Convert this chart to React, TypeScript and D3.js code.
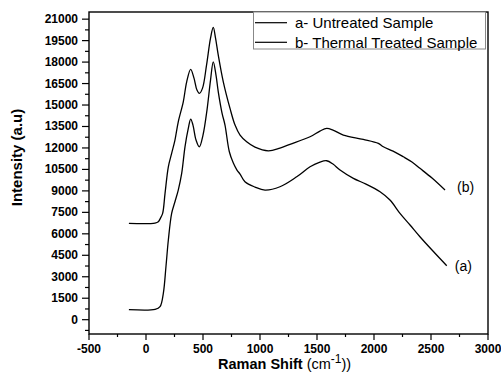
import React from "react";
import * as d3 from "d3";

const untreatedX = [-150, 80, 123, 152, 175, 196, 225, 254, 283, 313, 342, 371, 392, 412, 439, 468, 500, 535, 566, 590, 614, 634, 667, 693, 731, 766, 798, 825, 868, 956, 1044, 1175, 1322, 1439, 1526, 1585, 1640, 1702, 1819, 1930, 2053, 2140, 2228, 2316, 2403, 2517, 2638];
const untreatedY = [700, 720, 908, 1844, 3702, 5566, 7431, 8241, 9058, 10225, 12082, 13367, 14017, 13598, 12550, 12082, 12900, 14646, 16740, 18018, 17090, 15924, 14436, 13598, 11733, 10944, 10455, 10176, 9638, 9268, 9058, 9289, 9987, 10686, 11014, 11105, 10874, 10455, 9875, 9477, 8940, 8360, 7431, 6614, 5797, 4798, 3771];

const treatedX = [-150, 79, 108, 127, 146, 167, 196, 225, 254, 283, 327, 357, 392, 421, 447, 468, 496, 531, 566, 590, 610, 634, 678, 737, 781, 825, 883, 956, 1073, 1175, 1263, 1439, 1526, 1585, 1640, 1731, 1906, 2038, 2082, 2167, 2257, 2333, 2403, 2509, 2623];
const treatedY = [6730, 6750, 6844, 7100, 7431, 8828, 10686, 11621, 12550, 13828, 15225, 16622, 17488, 16880, 16043, 15812, 16182, 17788, 19674, 20421, 19674, 18487, 16622, 14764, 13598, 12899, 12431, 12061, 11803, 11992, 12250, 12781, 13179, 13367, 13249, 12899, 12599, 12320, 12082, 11782, 11384, 11014, 10574, 9896, 9058];

const xMajorTicks = [-500, 0, 500, 1000, 1500, 2000, 2500, 3000];
const xMinorTicks = [-250, 250, 750, 1250, 1750, 2250, 2750];
const yMajorTicks = [0, 1500, 3000, 4500, 6000, 7500, 9000, 10500, 12000, 13500, 15000, 16500, 18000, 19500, 21000];
const yMinorTicks = [-750, 750, 2250, 3750, 5250, 6750, 8250, 9750, 11250, 12750, 14250, 15750, 17250, 18750, 20250];
const legendLabels = ["a- Untreated Sample", "b- Thermal Treated Sample"];
const endLabels = ["(a)", "(b)"];

const W = 501, H = 372;
const L = 89, R = 488, T = 12, B = 334;

export default function App() {
  const x = d3.scaleLinear().domain([-500, 3000]).range([L, R]);
  const y = d3.scaleLinear().domain([-1000, 21500]).range([B, T]);
  const line = d3
    .line<[number, number]>()
    .x((d) => x(d[0]))
    .y((d) => y(d[1]))
    .curve(d3.curveCatmullRom.alpha(0.5));
  const a = untreatedX.map((v, i) => [v, untreatedY[i]] as [number, number]);
  const b = treatedX.map((v, i) => [v, treatedY[i]] as [number, number]);
  const font = "Arial, 'Liberation Sans', sans-serif";
  const aEnd = a[a.length - 1];
  const bEnd = b[b.length - 1];
  return (
    <svg width={W} height={H} style={{ position: "absolute", left: 0, top: 0, background: "#fff" }} fontFamily={font}>
      <rect x={0} y={0} width={W} height={H} fill="#fff" />
      <path d={line(a) || ""} fill="none" stroke="#000" strokeWidth={1.3} />
      <path d={line(b) || ""} fill="none" stroke="#000" strokeWidth={1.3} />
      <rect x={L} y={T} width={R - L} height={B - T} fill="none" stroke="#000" strokeWidth={1.4} />
      {xMajorTicks.map((t) => (
        <g key={"xM" + t}>
          <line x1={x(t)} x2={x(t)} y1={B} y2={B + 6} stroke="#000" strokeWidth={1.2} />
          <text x={x(t)} y={352.5} textAnchor="middle" fontSize={12} fontWeight="bold">{t}</text>
        </g>
      ))}
      {xMinorTicks.map((t) => (
        <line key={"xm" + t} x1={x(t)} x2={x(t)} y1={B} y2={B + 3} stroke="#000" strokeWidth={1.2} />
      ))}
      {yMajorTicks.map((t) => (
        <g key={"yM" + t}>
          <line x1={L - 7} x2={L} y1={y(t)} y2={y(t)} stroke="#000" strokeWidth={1.2} />
          <text x={78} y={y(t)} textAnchor="end" dominantBaseline="central" fontSize={12} fontWeight="bold">{t}</text>
        </g>
      ))}
      {yMinorTicks.map((t) => (
        <line key={"ym" + t} x1={L - 4} x2={L} y1={y(t)} y2={y(t)} stroke="#000" strokeWidth={1.2} />
      ))}
      <text x={218} y={369} fontSize={14.5}>
        <tspan fontWeight="bold">Raman Shift </tspan>
        <tspan>(cm</tspan>
        <tspan dy={-6} fontSize={12}>-1</tspan>
        <tspan dy={6}>))</tspan>
      </text>
      <text transform={`translate(22,157.5) rotate(-90)`} textAnchor="middle" fontSize={15} fontWeight="bold">Intensity (a.u)</text>
      <rect x={253.5} y={T} width={232} height={37} fill="#fff" stroke="#888" strokeWidth={1} />
      {legendLabels.map((lab, i) => (
        <g key={lab}>
          <line x1={255} x2={287} y1={22.7 + i * 19.6} y2={22.7 + i * 19.6} stroke="#000" strokeWidth={1.2} />
          <text x={295} y={22.7 + i * 19.6} dominantBaseline="central" fontSize={15}>{lab}</text>
        </g>
      ))}
      <text x={x(aEnd[0]) + 8} y={y(aEnd[1])} dominantBaseline="central" fontSize={14}>{endLabels[0]}</text>
      <text x={x(bEnd[0]) + 12} y={y(bEnd[1]) - 3} dominantBaseline="central" fontSize={14}>{endLabels[1]}</text>
    </svg>
  );
}
